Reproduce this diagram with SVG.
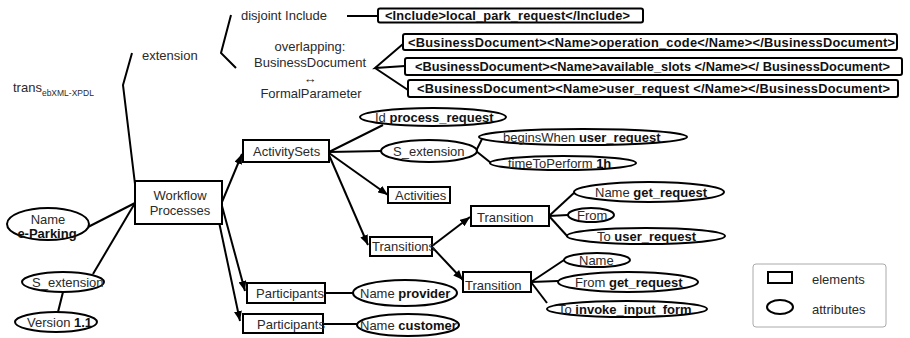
<svg xmlns="http://www.w3.org/2000/svg" width="910" height="338" viewBox="0 0 910 338">
  <defs>
    <marker id="ah" viewBox="0 0 10 8" refX="10" refY="4" markerWidth="10" markerHeight="8" markerUnits="userSpaceOnUse" orient="auto">
      <path d="M0,0 L10,4 L0,8 z" fill="#000"/>
    </marker>
  </defs>
  <style>
    text { font-family: "Liberation Sans", Arial, "DejaVu Sans", sans-serif; font-size: 13px; fill: #2a2a2a; }
    .b { font-weight: bold; fill: #111; }
    .x { font-size: 12.8px; font-weight: bold; fill: #111; }
    .sub { font-size: 8.5px; }
    .mid { text-anchor: middle; }
    .box { fill: #fff; stroke: #000; stroke-width: 2; }
    .attr { fill: #fff; stroke: #000; stroke-width: 2; }
    .edge { fill: none; stroke: #000; stroke-width: 2; }
    .arrow { marker-end: url(#ah); }
    .legend { fill: none; stroke: #aaa; stroke-width: 1; }
  </style>
  <rect width="910" height="338" fill="#fff"/>

  <!-- annotation labels -->
  <g id="labels">
    <text x="13" y="92">trans<tspan class="sub" dy="4">ebXML-XPDL</tspan></text>
    <text x="142" y="60">extension</text>
    <text x="241" y="20">disjoint Include</text>
    <text class="mid" x="310" y="51">overlapping:</text>
    <text class="mid" x="310" y="67">BusinessDocument</text>
    <text class="mid" x="310" y="83">↔</text>
    <text class="mid" x="311" y="98">FormalParameter</text>
  </g>

  <!-- connectors -->
  <g id="connectors">
    <polyline class="edge" points="132,53 123,85 135,184"/>
    <polyline class="edge" points="231,15 221,53 236,68"/>
    <line class="edge" x1="347" y1="16" x2="378" y2="16"/>
    <polyline class="edge" points="403,44 375,68 405,66"/>
    <line class="edge" x1="375" y1="68" x2="408" y2="90"/>

    <line class="edge" x1="88" y1="227" x2="135" y2="203"/>
    <line class="edge" x1="93" y1="274" x2="135" y2="203"/>
    <line class="edge" x1="63" y1="292" x2="58" y2="312"/>

    <line class="edge arrow" x1="222" y1="202" x2="242" y2="154"/>
    <line class="edge arrow" x1="222" y1="206" x2="245" y2="291"/>
    <line class="edge arrow" x1="219" y1="222" x2="240" y2="321"/>

    <line class="edge" x1="329" y1="152" x2="383" y2="125"/>
    <line class="edge" x1="329" y1="152" x2="381" y2="151"/>
    <line class="edge arrow" x1="329" y1="153" x2="388" y2="195"/>
    <line class="edge arrow" x1="329" y1="155" x2="368" y2="245"/>

    <line class="edge" x1="476" y1="151" x2="483" y2="137"/>
    <line class="edge" x1="476" y1="151" x2="491" y2="163"/>

    <line class="edge arrow" x1="432" y1="246" x2="470" y2="217"/>
    <line class="edge arrow" x1="432" y1="247" x2="463" y2="280"/>

    <line class="edge" x1="549" y1="216" x2="575" y2="192"/>
    <line class="edge" x1="549" y1="216" x2="568" y2="215"/>
    <line class="edge" x1="549" y1="216" x2="568" y2="237"/>

    <line class="edge" x1="531" y1="282" x2="567" y2="258"/>
    <line class="edge" x1="531" y1="282" x2="558" y2="281"/>
    <line class="edge" x1="531" y1="282" x2="547" y2="303"/>

    <line class="edge" x1="325" y1="293" x2="353" y2="293"/>
    <line class="edge" x1="323" y1="324" x2="357" y2="324"/>
  </g>

  <!-- XML fragments -->
  <g id="xml-include">
    <rect class="box" x="378" y="8.5" width="265" height="14" rx="2"/>
    <text class="x" x="385" y="20" textLength="245">&lt;Include&gt;local_park_request&lt;/Include&gt;</text>
  </g>
  <g id="xml-operation-code">
    <rect class="box" x="403" y="34" width="494" height="16" rx="2"/>
    <text class="x" x="408" y="46.5" textLength="487">&lt;BusinessDocument&gt;&lt;Name&gt;operation_code&lt;/Name&gt;&lt;/BusinessDocument&gt;</text>
  </g>
  <g id="xml-available-slots">
    <rect class="box" x="405" y="58" width="497" height="17" rx="2"/>
    <text class="x" x="415" y="71" textLength="475">&lt;BusinessDocument&gt;&lt;Name&gt;available_slots &lt;/Name&gt;&lt;/ BusinessDocument&gt;</text>
  </g>
  <g id="xml-user-request">
    <rect class="box" x="408" y="80" width="490" height="17" rx="2"/>
    <text class="x" x="417" y="93" textLength="473">&lt;BusinessDocument&gt;&lt;Name&gt;user_request &lt;/Name&gt;&lt;/BusinessDocument&gt;</text>
  </g>

  <!-- elements -->
  <g id="workflow-processes">
    <rect class="box" x="135" y="181" width="87" height="43"/>
    <text class="mid" x="180" y="200">Workflow</text>
    <text class="mid" x="180" y="215">Processes</text>
  </g>
  <g id="activity-sets">
    <rect class="box" x="243" y="140" width="86" height="22"/>
    <text x="253" y="156">ActivitySets</text>
  </g>
  <g id="activities">
    <rect class="box" x="388" y="187" width="62" height="16"/>
    <text x="395" y="200">Activities</text>
  </g>
  <g id="transitions">
    <rect class="box" x="370" y="237" width="62" height="19"/>
    <text x="372" y="251">Transitions</text>
  </g>
  <g id="transition-1">
    <rect class="box" x="471" y="206" width="78" height="20"/>
    <text x="477" y="221.5">Transition</text>
  </g>
  <g id="transition-2">
    <rect class="box" x="463" y="272" width="68" height="20"/>
    <text x="465" y="289.5">Transition</text>
  </g>
  <g id="participants-1">
    <rect class="box" x="247" y="283" width="78" height="20"/>
    <text x="256" y="297.5">Participants</text>
  </g>
  <g id="participants-2">
    <rect class="box" x="243" y="314" width="80" height="19"/>
    <text x="257" y="328.5">Participants</text>
  </g>

  <!-- attributes -->
  <g id="attr-name-eparking">
    <ellipse class="attr" cx="48" cy="224" rx="41" ry="16"/>
    <text class="mid" x="48" y="224">Name</text>
    <text class="mid b" x="47" y="238">e-Parking</text>
  </g>
  <g id="attr-s-extension-wp">
    <ellipse class="attr" cx="63" cy="282" rx="41" ry="10"/>
    <text x="32" y="286.5">S_extension</text>
  </g>
  <g id="attr-version">
    <ellipse class="attr" cx="56" cy="322" rx="41" ry="10"/>
    <text x="27" y="326.5">Version <tspan class="b">1.1</tspan></text>
  </g>
  <g id="attr-id">
    <ellipse class="attr" cx="433" cy="117" rx="73" ry="9"/>
    <text x="375" y="121.5">Id <tspan class="b">process_request</tspan></text>
  </g>
  <g id="attr-s-extension-as">
    <ellipse class="attr" cx="429" cy="151" rx="48" ry="11"/>
    <text x="393" y="155.5">S_extension</text>
  </g>
  <g id="attr-begins-when">
    <ellipse class="attr" cx="583" cy="137" rx="104" ry="8"/>
    <text x="503" y="141.5">beginsWhen <tspan class="b">user_request</tspan></text>
  </g>
  <g id="attr-time-to-perform">
    <ellipse class="attr" cx="563" cy="163" rx="73" ry="7"/>
    <text x="508" y="167.5">timeToPerform <tspan class="b">1h</tspan></text>
  </g>
  <g id="attr-t1-name">
    <ellipse class="attr" cx="649" cy="192" rx="75" ry="10"/>
    <text x="595" y="196.5">Name <tspan class="b">get_request</tspan></text>
  </g>
  <g id="attr-t1-from">
    <ellipse class="attr" cx="591" cy="215" rx="23" ry="7"/>
    <text x="577" y="219.5">From</text>
  </g>
  <g id="attr-t1-to">
    <ellipse class="attr" cx="646" cy="236" rx="79" ry="8"/>
    <text x="597" y="240.5">To <tspan class="b">user_request</tspan></text>
  </g>
  <g id="attr-t2-name">
    <ellipse class="attr" cx="597" cy="260" rx="33" ry="7"/>
    <text x="579" y="264.5">Name</text>
  </g>
  <g id="attr-t2-from">
    <ellipse class="attr" cx="628" cy="282" rx="70" ry="10"/>
    <text x="575" y="286.5">From <tspan class="b">get_request</tspan></text>
  </g>
  <g id="attr-t2-to">
    <ellipse class="attr" cx="627" cy="309" rx="80" ry="8"/>
    <text x="558" y="313.5">To <tspan class="b">invoke_input_form</tspan></text>
  </g>
  <g id="attr-provider">
    <ellipse class="attr" cx="405" cy="293" rx="52" ry="13"/>
    <text x="360" y="297.5">Name <tspan class="b">provider</tspan></text>
  </g>
  <g id="attr-customer">
    <ellipse class="attr" cx="408" cy="325" rx="51" ry="11"/>
    <text x="360" y="329.5">Name <tspan class="b">customer</tspan></text>
  </g>

  <!-- legend -->
  <g id="legend">
    <rect class="legend" x="753" y="264" width="133" height="63" rx="3"/>
    <rect class="box" x="768" y="272" width="24" height="11"/>
    <ellipse class="attr" cx="780" cy="307" rx="13" ry="7"/>
    <text x="812" y="284">elements</text>
    <text x="812" y="314">attributes</text>
  </g>
</svg>
